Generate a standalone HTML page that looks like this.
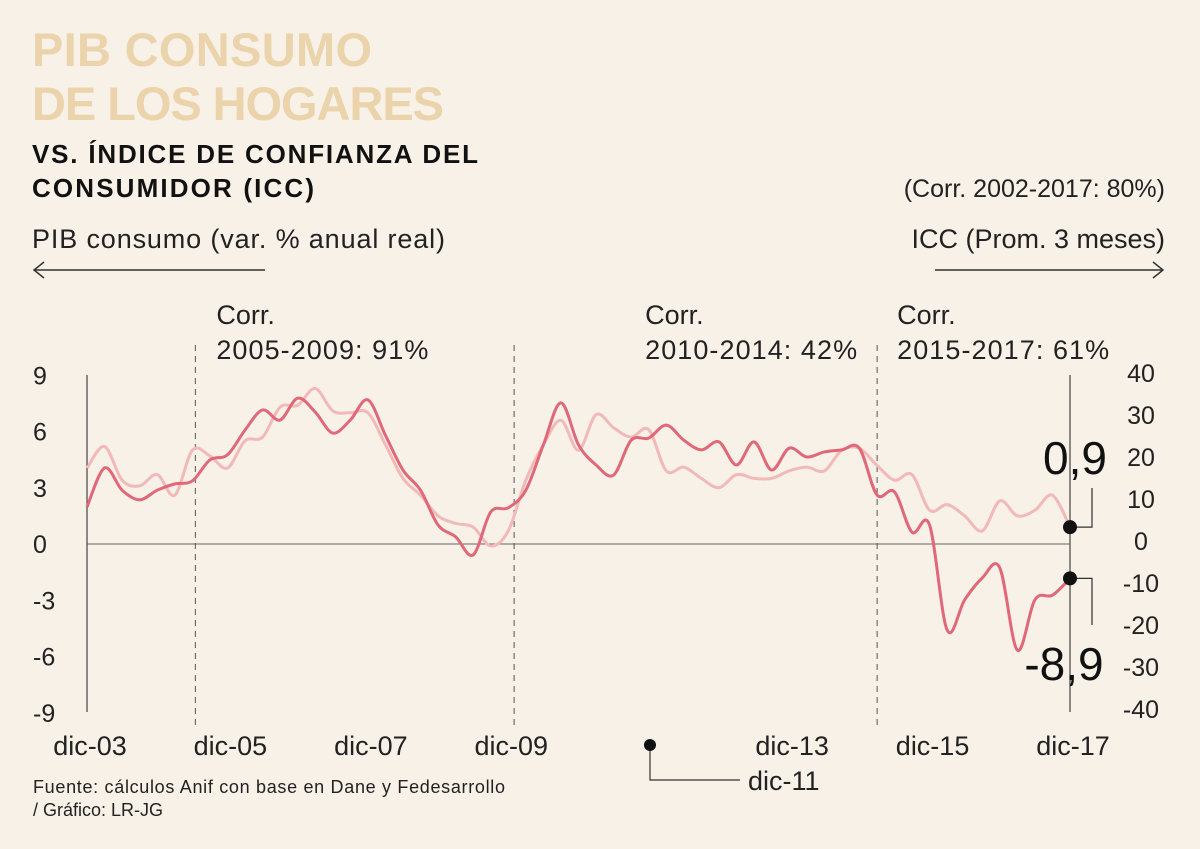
<!DOCTYPE html>
<html><head><meta charset="utf-8"><style>
html,body{margin:0;padding:0;background:#f8f1e7;}
svg{display:block;font-family:"Liberation Sans",sans-serif;}
</style></head><body>
<svg id="chart" width="1200" height="849" viewBox="0 0 1200 849">
<rect width="1200" height="849" fill="#f8f1e7"/>
<text x="32" y="66" font-size="47" font-weight="bold" fill="#ebd3ab" textLength="340">PIB CONSUMO</text>
<text x="32" y="120" font-size="47" font-weight="bold" fill="#ebd3ab" textLength="412">DE LOS HOGARES</text>
<text x="32" y="163" font-size="26" font-weight="bold" fill="#111" textLength="446">VS. ÍNDICE DE CONFIANZA DEL</text>
<text x="32" y="197" font-size="26" font-weight="bold" fill="#111" textLength="282">CONSUMIDOR (ICC)</text>
<text x="1165" y="197" font-size="25" text-anchor="end" fill="#222">(Corr. 2002-2017: 80%)</text>
<text x="32" y="248" font-size="27" fill="#222" textLength="413">PIB consumo (var. % anual real)</text>
<text x="1165" y="248" font-size="27" text-anchor="end" fill="#222">ICC (Prom. 3 meses)</text>
<g stroke="#333" stroke-width="1.5" fill="none"><line x1="34" y1="270" x2="265" y2="270"/><polyline points="44,262 34,270 44,278"/></g>
<g stroke="#333" stroke-width="1.5" fill="none"><line x1="935" y1="270" x2="1163" y2="270"/><polyline points="1153,262 1163,270 1153,278"/></g>
<g id="plot"></g>
<text x="33" y="793" font-size="18" fill="#222" textLength="472">Fuente: cálculos Anif con base en Dane y Fedesarrollo</text>
<text x="33" y="816" font-size="18" fill="#222">/ Gráfico: LR-JG</text>
</svg>
<script>
const pibValues=[4.05,5.2,3.4,3.1,3.7,2.6,5.0,4.7,4.05,5.5,5.7,7.3,7.4,8.3,7.1,7.0,7.0,5.3,3.5,2.6,1.5,1.1,0.9,-0.1,0.7,3.4,5.3,6.6,5.0,6.9,6.2,5.7,6.1,3.9,4.1,3.5,3.0,3.7,3.5,3.5,3.9,4.1,3.9,5.0,5.1,4.2,3.4,3.7,1.8,2.1,1.5,0.7,2.3,1.5,1.8,2.6,0.9];
const iccValues=[8.1,17.4,12.1,9.8,12.1,13.6,14.3,19.3,20.5,26.4,31.2,28.8,34.0,30.7,25.7,28.8,33.6,25.2,16.9,12.1,3.8,1.0,-3.3,6.9,7.9,12.1,22.9,32.9,22.9,18.1,15.7,24.0,24.5,27.6,24.0,21.7,23.6,18.1,23.6,16.9,22.1,20.0,21.2,21.7,22.1,11.0,11.7,2.1,3.8,-21.2,-14.0,-8.8,-6.4,-26.0,-14.0,-12.9,-8.9];
const startYear=2003.917;
const leftTicks=[9,6,3,0,-3,-6,-9];
const rightTicks=[40,30,20,10,0,-10,-20,-30,-40];
const xLabels=["dic-03","dic-05","dic-07","dic-09","dic-13","dic-15","dic-17"];
const xLabelYears=[2003.917,2005.917,2007.917,2009.917,2013.917,2015.917,2017.917];
const dividerYears=[2005.46,2010.0,2015.17];
const corrLabels=[["Corr.","2005-2009: 91%"],["Corr.","2010-2014: 42%"],["Corr.","2015-2017: 61%"]];
const corrOffsets=[21,131,20];

const NS="http://www.w3.org/2000/svg";
const g=document.getElementById('plot');
const x=t=>87+(t-2003.917)*(983/14);
const yL=v=>544-v*18.75;
const yR=v=>541-v*4.2;
function el(tag,attrs,parent){const e=document.createElementNS(NS,tag);for(const k in attrs)e.setAttribute(k,attrs[k]);(parent||g).appendChild(e);return e;}
function txt(s,attrs){const e=el('text',attrs);e.textContent=s;return e;}

const la=el('line',{x1:87,y1:375,x2:87,y2:712,stroke:'#444','stroke-width':1.2});


const ra=el('line',{x1:1070,y1:375,x2:1070,y2:712,stroke:'#444','stroke-width':1.2});


const zl=el('line',{x1:87,y1:yL(0),x2:1070,y2:yL(0),stroke:'#666','stroke-width':1});



leftTicks.forEach(v=>{const t=txt(String(v),{x:33,y:yL(v)+9,'font-size':25,fill:'#222'});

});
rightTicks.forEach(v=>{const t=txt(String(v),{x:1141,y:yR(v)+9,'font-size':25,'text-anchor':'middle',fill:'#222'});

});
xLabels.forEach((s,i)=>{const t=txt(s,{x:x(xLabelYears[i])+3,y:755,'font-size':27,'text-anchor':'middle',fill:'#222'});

});
const d11=txt("dic-11",{x:748,y:790,'font-size':27,fill:'#222'});


const d11l=el('polyline',{points:"650,745 650,780 740,780",fill:'none',stroke:'#333','stroke-width':1.2});


const d11d=el('circle',{cx:650,cy:745,r:6,fill:'#111'});



dividerYears.forEach((yr,i)=>{const l=el('line',{x1:x(yr),y1:345,x2:x(yr),y2:725,stroke:'#555','stroke-width':1,'stroke-dasharray':'6,5'});


const t1=txt(corrLabels[i][0],{x:x(yr)+corrOffsets[i],y:324,'font-size':27,fill:'#222'});


const t2=txt(corrLabels[i][1],{x:x(yr)+corrOffsets[i],y:359,'font-size':27,fill:'#222',textLength:212});

});

function smooth(pts){let d=`M${pts[0][0]},${pts[0][1]}`;for(let i=0;i<pts.length-1;i++){const p0=pts[i-1]||pts[i],p1=pts[i],p2=pts[i+1],p3=pts[i+2]||p2;
d+=` C${p1[0]+(p2[0]-p0[0])/6},${p1[1]+(p2[1]-p0[1])/6} ${p2[0]-(p3[0]-p1[0])/6},${p2[1]-(p3[1]-p1[1])/6} ${p2[0]},${p2[1]}`;}return d;}
const pibPts=pibValues.map((v,i)=>[x(startYear+i*0.25),yL(v)]);
const iccPts=iccValues.map((v,i)=>[x(startYear+i*0.25),yR(v)]);
const pl=el('path',{d:smooth(pibPts),fill:'none',stroke:'#f2b9b9','stroke-width':3,'stroke-linejoin':'round'});


const il=el('path',{d:smooth(iccPts),fill:'none',stroke:'#e06878','stroke-width':3,'stroke-linejoin':'round'});



const lp=pibPts[pibPts.length-1], li=iccPts[iccPts.length-1];
const c1=el('polyline',{points:`${lp[0]},${lp[1]} 1092,${lp[1]} 1092,488`,fill:'none',stroke:'#333','stroke-width':1.2});


const c2=el('polyline',{points:`${li[0]},${li[1]} 1092,${li[1]} 1092,625`,fill:'none',stroke:'#333','stroke-width':1.2});


const m1=el('circle',{cx:lp[0],cy:lp[1],r:7,fill:'#111'});


const m2=el('circle',{cx:li[0],cy:li[1],r:7,fill:'#111'});


const v1=txt(String(pibValues[pibValues.length-1]).replace('.',','),{x:1075,y:474,'font-size':46,'text-anchor':'middle',fill:'#111'});


const v2=txt(String(iccValues[iccValues.length-1]).replace('.',','),{x:1064,y:680,'font-size':46,'text-anchor':'middle',fill:'#111'});


</script>
</body></html>
